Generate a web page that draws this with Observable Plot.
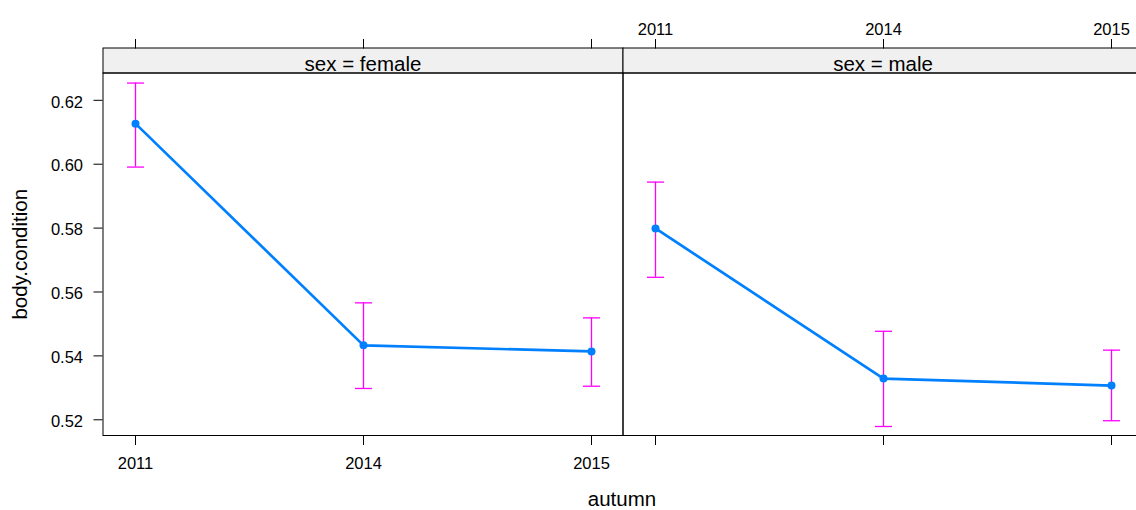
<!DOCTYPE html>
<html>
<head>
<meta charset="utf-8">
<script src="https://cdn.jsdelivr.net/npm/d3@7"></script>
<script src="https://cdn.jsdelivr.net/npm/@observablehq/plot@0.6"></script>
<style>
  html, body { margin: 0; padding: 0; background: #fff; }
  #chart {
    position: relative; width: 1136px; height: 510px; overflow: hidden;
    background: #fff; font-family: "Liberation Sans", Arial, sans-serif;
  }
  #chart svg { position: absolute; top: 0; overflow: visible; }
  #xtitle {
    position: absolute; left: 522px; width: 200px; top: 487.6px;
    line-height: 21px; font-size: 20.5px; text-align: center; color: #000;
    white-space: nowrap;
  }
</style>
</head>
<body>
<div id="chart"></div>
<script>
// Effect of autumn (year) on body condition, one panel per sex:
// fitted means joined by a line, with 95% confidence bars.
const years = ["2011", "2014", "2015"];
const factorName = "sex";
const sexes = ["female", "male"];

const femaleFit   = [0.6127, 0.5433, 0.5414];
const femaleLower = [0.5991, 0.5298, 0.5305];
const femaleUpper = [0.6254, 0.5566, 0.5519];

const maleFit   = [0.5799, 0.5329, 0.5307];
const maleLower = [0.5646, 0.5179, 0.5197];
const maleUpper = [0.5944, 0.5477, 0.5418];

const yTicks = [0.52, 0.54, 0.56, 0.58, 0.60, 0.62];
const xLabel = "autumn";
const yLabel = "body.condition";

const BLUE = "#0080ff";
const MAGENTA = "#ff00ff";
const FONT = "'Liberation Sans', Arial, sans-serif";

// shared y extent of both panels
const yDomain = [0.51508, 0.62855];

const H = 510, TOP = 72.5, BOTTOM = 75, STRIP = 25, PANEL_W = 520;

// horizontal bar symbol used for the caps of the confidence bars
const capSymbol = {
  draw(context, size) {
    const r = Math.sqrt(size / Math.PI);
    context.moveTo(-r, 0);
    context.lineTo(r, 0);
  }
};

function panel(sex, fit, lower, upper, opts) {
  const rows = years.map((year, i) => ({year, fit: fit[i], lower: lower[i], upper: upper[i]}));
  const {width, marginLeft, marginRight, labelsBottom, first} = opts;
  const panelH = H - TOP - BOTTOM;
  const marks = [
    // strip with the conditioning level
    Plot.frame({insetTop: -STRIP, insetBottom: panelH, fill: "#f0f0f0", stroke: "#000"}),
    Plot.text([`${factorName} = ${sex}`], {
      frameAnchor: "top", lineAnchor: "middle", textAnchor: "middle",
      dy: -8.6, fontSize: 20.5, fill: "#000"
    }),
    Plot.frame({stroke: "#000"}),
    // confidence bars
    Plot.ruleX(rows, {x: "year", y1: "lower", y2: "upper", stroke: MAGENTA, strokeWidth: 1.3}),
    Plot.dot(rows, {x: "year", y: "lower", symbol: capSymbol, r: 8.5, fill: "none", stroke: MAGENTA, strokeWidth: 1.3}),
    Plot.dot(rows, {x: "year", y: "upper", symbol: capSymbol, r: 8.5, fill: "none", stroke: MAGENTA, strokeWidth: 1.3}),
    // fitted means
    Plot.line(rows, {x: "year", y: "fit", stroke: BLUE, strokeWidth: 2.7}),
    Plot.dot(rows, {x: "year", y: "fit", r: 4, fill: BLUE}),
    // x axes: labels alternate between bottom (first panel) and top (second)
    Plot.axisX({anchor: "bottom", tickSize: 10, tickPadding: 12, fontSize: 16.5,
                fill: labelsBottom ? "#000" : "none", stroke: "#000", label: null}),
    Plot.axisX({anchor: "top", tickSize: 9.5, tickPadding: 4, dy: -STRIP, fontSize: 16.5,
                fill: labelsBottom ? "none" : "#000", stroke: "#000", label: null})
  ];
  if (first) {
    marks.push(
      Plot.axisY(yTicks, {anchor: "left", tickSize: 9, fill: "none", stroke: "#000", label: null}),
      Plot.axisY(yTicks, {anchor: "left", tickSize: 0, tickPadding: 20, dy: 2, fontSize: 16.5,
                          tickFormat: d3.format(".2f"), fill: "#000", label: null}),
      Plot.text([yLabel], {frameAnchor: "left", rotate: -90, dx: -82.7, lineAnchor: "middle",
                           textAnchor: "middle", fontSize: 20.5, fill: "#000"})
    );
  }
  return Plot.plot({
    width, height: H,
    marginLeft, marginRight, marginTop: TOP, marginBottom: BOTTOM,
    style: {background: "transparent", color: "#000", fontFamily: FONT, fontSize: "16.5px", overflow: "visible"},
    x: {type: "point", domain: years, padding: 0.14},
    y: {domain: yDomain, axis: first ? undefined : null},
    marks
  });
}

const chart = document.getElementById("chart");

const female = panel(sexes[0], femaleFit, femaleLower, femaleUpper, {
  width: 623, marginLeft: 102.5, marginRight: 623 - 102.5 - PANEL_W, labelsBottom: true, first: true
});
female.style.left = "0px";
chart.appendChild(female);

const male = panel(sexes[1], maleFit, maleLower, maleUpper, {
  width: 560, marginLeft: 20.5, marginRight: 560 - 20.5 - PANEL_W, labelsBottom: false, first: false
});
male.style.left = "602px";
chart.appendChild(male);

// shared x title, centred under both panels
const xTitle = document.createElement("div");
xTitle.id = "xtitle";
xTitle.textContent = xLabel;
chart.appendChild(xTitle);
</script>
</body>
</html>
